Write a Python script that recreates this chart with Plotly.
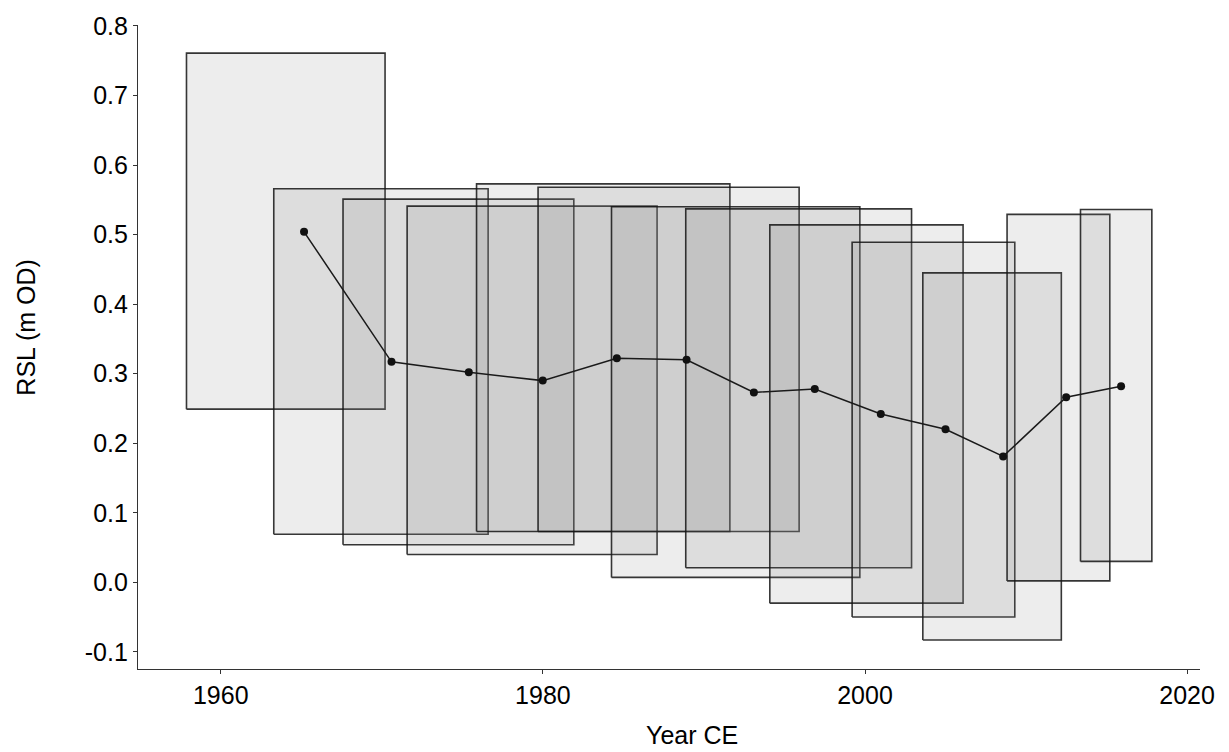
import plotly.graph_objects as go

# Point series (Year CE, RSL m OD)
point_years = [1965.17, 1970.60, 1975.40, 1979.99, 1984.59, 1988.92, 1993.10,
               1996.88, 2000.98, 2005.00, 2008.58, 2012.49, 2015.90]
point_rsl = [0.504, 0.317, 0.302, 0.290, 0.322, 0.320, 0.273,
             0.278, 0.242, 0.220, 0.181, 0.266, 0.282]

# Uncertainty boxes
box_left = [1957.87, 1963.29, 1967.59, 1971.57, 1975.88, 1979.70, 1984.26,
            1988.87, 1994.09, 1999.20, 2003.59, 2008.82, 2013.38]
box_right = [1970.20, 1976.60, 1981.92, 1987.09, 1991.61, 1995.91, 1999.68,
             2002.89, 2006.09, 2009.30, 2012.19, 2015.20, 2017.81]
box_bottom = [0.249, 0.069, 0.054, 0.040, 0.073, 0.073, 0.007,
              0.021, -0.030, -0.050, -0.083, 0.002, 0.030]
box_top = [0.761, 0.566, 0.551, 0.541, 0.573, 0.568, 0.540,
           0.537, 0.514, 0.489, 0.445, 0.529, 0.536]

x_ticks = [1960, 1980, 2000, 2020]
y_ticks = [-0.1, 0.0, 0.1, 0.2, 0.3, 0.4, 0.5, 0.6, 0.7, 0.8]
y_tick_labels = ["-0.1", "0.0", "0.1", "0.2", "0.3", "0.4", "0.5", "0.6", "0.7", "0.8"]

FONT = "Liberation Sans, Arial, Helvetica, sans-serif"

fig = go.Figure()

for l, r, b, t in zip(box_left, box_right, box_bottom, box_top):
    fig.add_trace(go.Scatter(
        x=[l, r, r, l, l], y=[b, b, t, t, b],
        mode="lines", fill="toself",
        fillcolor="rgba(128,128,128,0.14)",
        line=dict(color="rgba(20,20,20,0.85)", width=1.6),
        hoverinfo="skip", showlegend=False,
    ))

fig.add_trace(go.Scatter(
    x=point_years, y=point_rsl, mode="lines+markers",
    line=dict(color="#1a1a1a", width=1.5),
    marker=dict(color="#111111", size=8),
    showlegend=False,
))

fig.update_layout(
    width=1229, height=752,
    margin=dict(l=138, r=29, t=21, b=83),
    paper_bgcolor="white", plot_bgcolor="white",
    font=dict(family=FONT, color="black", size=25),
    xaxis=dict(
        range=[1954.86, 2020.8], tickvals=x_ticks,
        showgrid=False, zeroline=False,
        showline=True, linecolor="#333333", linewidth=1.2,
        ticks="outside", ticklen=4, tickwidth=1.1, tickcolor="#333333",
        tickfont=dict(size=25, color="black", family=FONT),
    ),
    yaxis=dict(
        range=[-0.1247, 0.8014], tickvals=y_ticks, ticktext=y_tick_labels,
        showgrid=False, zeroline=False,
        showline=True, linecolor="#333333", linewidth=1.2,
        ticks="outside", ticklen=4, tickwidth=1.1, tickcolor="#333333",
        tickfont=dict(size=25, color="black", family=FONT),
    ),
    annotations=[
        dict(text="Year CE", xref="paper", yref="paper", x=0.522, y=-0.128,
             xanchor="center", yanchor="bottom", showarrow=False,
             font=dict(size=25, color="black", family=FONT)),
        dict(text="RSL (m OD)", xref="paper", yref="paper", x=-0.1051, y=0.5306,
             xanchor="center", yanchor="middle", textangle=-90, showarrow=False,
             font=dict(size=25, color="black", family=FONT)),
    ],
)

fig.write_html("out.html")
